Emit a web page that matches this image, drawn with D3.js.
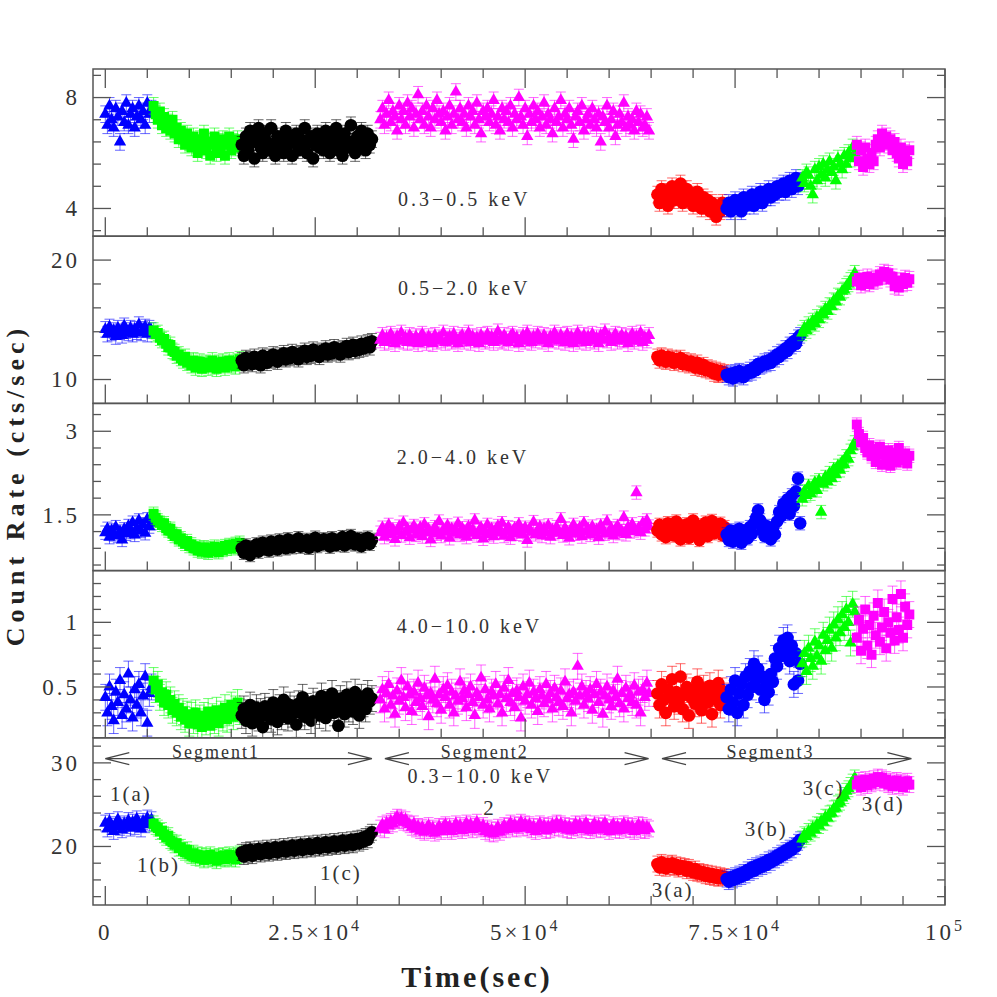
<!DOCTYPE html>
<meta charset="utf-8">
<head>
  <title>Light curves</title>
</head>
<style>
  body { margin: 0; background: #fff; }
  .lbl { font-family: "Liberation Serif", serif; fill: #333; }
</style>
<body>
<svg id="chart" width="997" height="997"></svg>
<script src="https://cdnjs.cloudflare.com/ajax/libs/d3/7.8.5/d3.min.js"></script>
<script>
// ---- data ----
const bandNames = ["0.3\u22120.5  keV", "0.5\u22122.0  keV", "2.0\u22124.0  keV", "4.0\u221210.0  keV", "0.3\u221210.0  keV"];
const groupNames = ["1(a)", "1(b)", "1(c)", "2", "3(a)", "3(b)", "3(c)", "3(d)"];
const groupStart = [0, 5750, 16250, 32750, 65750, 74000, 83000, 89500]; // sec
const binSize = 250; // sec

const rate03_05 = [
  [7.4, 7.0, 7.7, 7.2, 6.9, 7.6, 7.3, 6.4, 7.5, 7.1, 7.8, 7.0, 7.4, 7.6, 6.9, 7.3, 7.7, 7.2, 7.5, 7.0, 7.8, 7.4, 7.6],
  [7.7, 7.4, 7.2, 7.5, 7.0, 7.3, 6.9, 7.1, 6.8, 7.2, 6.7, 6.9, 6.5, 6.8, 6.6, 6.3, 6.7, 6.4,
   6.2, 6.6, 6.3, 6.0, 6.5, 6.2, 6.7, 6.1, 6.4, 5.9, 6.3, 6.6, 6.0, 6.4, 6.2, 6.5, 5.9, 6.3, 6.6, 6.1, 6.4, 6.2, 6.5, 6.3],
  [6.3, 5.9, 6.6, 6.1, 6.8, 6.4, 5.8, 6.5, 6.9, 6.2, 6.0, 6.7, 6.4, 6.1, 6.9, 6.3, 5.9, 6.6, 6.2, 6.5,
   6.0, 6.8, 6.3, 6.6, 5.9, 6.4, 6.7, 6.1, 6.5, 6.2, 6.9, 6.0, 6.4, 6.6, 5.8, 6.3, 6.7, 6.2, 6.5, 6.1,
   6.8, 6.4, 6.0, 6.6, 6.3, 6.9, 6.1, 6.5, 5.9, 6.7, 6.2, 6.4, 7.0, 6.3, 6.0, 6.6, 6.2, 6.8, 6.4, 6.1,
   6.7, 6.3, 6.5],
  [7.2, 7.6, 7.0, 7.4, 7.9, 7.1, 7.5, 7.3, 6.8, 7.7, 7.2, 7.5, 7.0, 7.8, 7.3, 7.6, 6.9, 7.4, 8.1, 7.2,
   7.5, 7.0, 7.7, 7.3, 6.9, 7.6, 7.2, 7.9, 7.4, 7.1, 7.5, 6.8, 7.3, 7.7, 7.0, 7.4, 8.2, 7.2, 7.6, 7.1,
   7.4, 6.9, 7.7, 7.3, 7.5, 7.0, 7.8, 7.2, 6.7, 7.5, 7.3, 7.6, 7.1, 7.4, 7.9, 7.0, 7.3, 6.8, 7.6, 7.2,
   7.5, 7.1, 7.7, 6.9, 7.4, 7.2, 8.0, 7.3, 7.0, 7.6, 6.6, 7.4, 7.1, 7.7, 7.2, 7.5, 6.9, 7.3, 7.8, 7.0,
   7.4, 7.2, 6.7, 7.6, 7.1, 7.3, 7.9, 6.9, 7.4, 7.2, 7.6, 7.0, 6.5, 7.3, 7.5, 7.1, 7.7, 6.8, 7.2, 7.4,
   7.0, 7.6, 7.2, 6.9, 7.4, 6.4, 7.3, 7.1, 7.7, 6.9, 7.2, 7.5, 6.6, 7.0, 7.4, 7.1, 7.8, 6.9, 7.3, 7.0,
   7.2, 6.8, 7.5, 7.1, 7.4, 6.9, 7.0, 7.3, 6.8],
  [4.5, 4.2, 4.7, 4.4, 4.6, 4.1, 4.5, 4.8, 4.3, 4.6, 4.4, 4.9, 4.2, 4.5, 4.7, 4.3, 4.5, 4.1, 4.4, 4.6,
   4.2, 4.0, 4.4, 4.1, 4.3, 3.9, 4.2, 4.0, 3.7, 4.1, 3.9, 4.2, 4.0],
  [4.0, 4.2, 3.9, 4.1, 4.3, 4.0, 4.2, 3.9, 4.4, 4.1, 4.3, 4.2, 4.5, 4.1, 4.4, 4.3, 4.6, 4.2, 4.5, 4.4,
   4.7, 4.4, 4.6, 4.5, 4.8, 4.6, 4.7, 4.9, 4.6, 4.8, 5.0, 4.7, 4.9, 5.1, 4.8, 5.0],
  [5.1, 4.9, 5.3, 5.2, 4.8, 4.5, 5.4, 5.0, 5.5, 5.2, 5.6, 5.1, 5.4, 5.7, 5.3, 5.5, 5.0, 5.8, 5.6, 5.4,
   5.9, 5.6, 6.0, 5.8, 6.2, 6.0],
  [6.3, 5.7, 6.1, 5.5, 6.2, 5.8, 5.6, 6.0, 5.7, 6.3, 6.5, 6.2, 6.7, 6.4, 6.6, 6.3, 6.5, 6.1, 6.4, 6.0,
   5.8, 6.2, 5.6, 6.0, 5.7, 6.1]
];
const rate05_20 = [
  [14.2, 13.8, 14.4, 13.9, 14.1, 13.6, 14.3, 14.0, 13.7, 14.5, 14.1, 13.9, 14.3, 13.8, 14.2, 14.0, 14.6, 13.9, 14.2, 14.4, 13.8, 14.3, 14.1],
  [14.1, 13.8, 13.9, 13.5, 13.3, 13.4, 13.0, 12.7, 12.9, 12.4, 12.3, 12.0, 12.1, 11.8, 11.6, 11.9, 11.4, 11.5,
   11.2, 11.6, 11.0, 11.3, 11.5, 10.9, 11.2, 11.4, 11.0, 11.3, 11.6, 11.1, 10.9, 11.4, 11.2, 11.5, 11.0, 11.3, 11.6, 11.2, 11.4, 11.1, 11.5, 11.7],
  [11.6, 11.2, 11.8, 11.4, 11.7, 11.3, 11.9, 11.5, 11.6, 11.2, 12.0, 11.7, 11.4, 11.9, 11.6, 12.1, 11.7, 11.5, 12.0, 11.8,
   12.2, 11.7, 12.0, 11.8, 12.3, 11.9, 12.1, 11.7, 12.2, 12.0, 12.4, 11.9, 12.2, 12.0, 12.5, 12.1, 12.3, 11.9, 12.4, 12.2,
   12.6, 12.1, 12.4, 12.2, 12.7, 12.3, 12.5, 12.1, 12.6, 12.4, 12.8, 12.3, 12.6, 12.9, 12.4, 12.7, 12.5, 13.0, 12.6, 12.8,
   13.1, 12.7, 13.2],
  [13.3, 13.7, 13.1, 13.5, 13.2, 13.8, 13.4, 13.0, 13.6, 13.3, 13.9, 13.2, 13.5, 13.1, 13.7, 13.4, 13.2, 13.6, 13.0, 13.5,
   13.8, 13.3, 13.1, 13.6, 13.4, 13.0, 13.7, 13.2, 13.5, 13.3, 13.9, 13.1, 13.4, 13.6, 13.2, 13.8, 13.3, 13.0, 13.5, 13.7,
   13.2, 13.4, 13.9, 13.1, 13.6, 13.3, 13.5, 13.0, 13.7, 13.4, 13.2, 13.8, 13.3, 13.6, 13.1, 13.5, 14.0, 13.3, 13.2, 13.7,
   13.4, 13.1, 13.6, 13.8, 13.3, 13.5, 13.0, 13.4, 13.7, 13.2, 13.9, 13.4, 13.1, 13.6, 13.3, 13.8, 13.5, 13.2, 13.7, 13.4,
   13.0, 13.6, 13.3, 13.9, 13.5, 13.2, 13.7, 13.4, 13.1, 13.8, 13.3, 13.6, 13.0, 13.5, 13.9, 13.2, 13.4, 13.7, 13.1, 13.6,
   13.3, 13.8, 13.2, 13.5, 13.0, 13.7, 13.4, 14.0, 13.3, 13.6, 13.1, 13.5, 13.8, 13.2, 13.4, 13.7, 13.3, 13.6, 13.0, 13.5,
   13.8, 13.2, 13.6, 13.4, 13.9, 13.1, 13.5, 13.3, 13.7],
  [11.9, 11.6, 12.0, 11.7, 11.5, 11.9, 11.6, 11.8, 11.4, 11.7, 11.5, 11.8, 11.3, 11.6, 11.4, 11.2, 11.5, 11.3, 11.0, 11.4,
   11.1, 10.9, 11.2, 10.8, 11.0, 10.7, 10.9, 10.5, 10.8, 10.4, 10.7, 10.5, 10.6],
  [10.4, 10.2, 10.5, 10.1, 10.6, 10.3, 10.7, 10.4, 10.2, 10.6, 10.5, 10.8, 10.6, 11.0, 10.8, 11.3, 11.1, 11.2, 11.5, 11.3,
   11.6, 11.4, 11.8, 11.7, 12.1, 11.9, 12.3, 12.2, 12.6, 12.4, 12.9, 12.8, 13.2, 13.0, 13.5, 13.7],
  [13.9, 14.3, 14.1, 14.6, 14.4, 14.9, 14.7, 15.2, 15.0, 15.5, 15.4, 15.9, 15.7, 16.2, 16.1, 16.6, 16.5, 17.0, 16.9, 17.4,
   17.5, 17.8, 18.0, 18.3, 18.5, 18.9],
  [18.2, 18.5, 17.9, 18.3, 18.1, 18.6, 18.0, 18.4, 18.2, 18.5, 18.3, 18.8, 18.6, 19.0, 18.7, 18.9, 18.4, 18.6, 17.8, 18.2,
   17.7, 18.3, 18.0, 18.5, 18.1, 18.4]
];
const rate20_40 = [
  [1.18, 1.25, 1.10, 1.22, 1.15, 1.28, 1.12, 1.20, 1.05, 1.24, 1.16, 1.30, 1.19, 1.36, 1.14, 1.26, 1.40, 1.21, 1.33, 1.17, 1.42, 1.29, 1.35],
  [1.52, 1.45, 1.40, 1.36, 1.32, 1.35, 1.26, 1.22, 1.25, 1.16, 1.12, 1.15, 1.06, 1.08, 1.02, 0.98, 1.03, 0.94, 0.97, 0.90,
   0.93, 0.86, 0.90, 0.84, 0.92, 0.87, 0.82, 0.90, 0.85, 0.93, 0.88, 0.83, 0.91, 0.87, 0.94, 0.89, 0.96, 0.90, 0.93, 0.98, 0.92, 1.00],
  [0.90, 0.82, 0.95, 0.86, 0.78, 0.92, 0.88, 0.97, 0.84, 0.93, 1.00, 0.89, 0.95, 0.86, 1.02, 0.92, 0.98, 0.88, 1.04, 0.94,
   0.99, 0.90, 1.06, 0.95, 0.92, 1.03, 0.97, 1.08, 0.93, 1.00, 0.96, 1.05, 0.91, 1.02, 0.98, 1.09, 0.94, 1.01, 0.97, 1.06,
   0.99, 1.04, 0.93, 1.08, 1.00, 0.96, 1.05, 1.01, 1.10, 0.95, 1.03, 0.99, 1.12, 1.04, 0.97, 1.07, 1.02, 0.94, 1.06, 1.01,
   1.09, 0.98, 1.05],
  [1.18, 1.27, 1.10, 1.22, 1.32, 1.15, 1.24, 1.06, 1.20, 1.29, 1.13, 1.36, 1.19, 1.25, 1.09, 1.23, 1.30, 1.14, 1.21, 1.27,
   1.11, 1.33, 1.18, 1.24, 1.05, 1.20, 1.28, 1.16, 1.38, 1.12, 1.23, 1.19, 1.31, 1.08, 1.25, 1.17, 1.22, 1.34, 1.14, 1.26,
   1.20, 1.10, 1.29, 1.17, 1.24, 1.40, 1.13, 1.21, 1.27, 1.07, 1.19, 1.32, 1.15, 1.25, 1.11, 1.23, 1.30, 1.18, 1.35, 1.12,
   1.22, 1.28, 1.09, 1.20, 1.26, 1.16, 1.33, 1.21, 1.14, 1.27, 1.04, 1.24, 1.19, 1.37, 1.15, 1.22, 1.29, 1.12, 1.25, 1.18,
   1.31, 1.10, 1.23, 1.17, 1.28, 1.20, 1.42, 1.13, 1.26, 1.19, 1.08, 1.24, 1.32, 1.16, 1.21, 1.27, 1.11, 1.35, 1.20, 1.25,
   1.14, 1.29, 1.18, 1.23, 1.09, 1.31, 1.22, 1.16, 1.38, 1.19, 1.26, 1.12, 1.24, 1.30, 1.17, 1.21, 1.45, 1.15, 1.28, 1.20,
   1.33, 1.22, 1.90, 1.26, 1.18, 1.35, 1.24, 1.40, 1.29],
  [1.22, 1.32, 1.15, 1.27, 1.10, 1.35, 1.20, 1.29, 1.13, 1.38, 1.24, 1.06, 1.30, 1.18, 1.33, 1.09, 1.26, 1.40, 1.16, 1.28,
   1.05, 1.31, 1.21, 1.36, 1.12, 1.25, 1.39, 1.17, 1.30, 1.22, 1.34, 1.14, 1.28],
  [1.15, 1.05, 1.22, 1.02, 1.18, 1.10, 1.25, 1.00, 1.14, 1.20, 1.08, 1.28, 1.16, 1.35, 1.45, 1.58, 1.40, 1.22, 1.12, 1.30,
   1.18, 1.06, 1.25, 1.15, 1.38, 1.55, 1.48, 1.70, 1.62, 1.78, 1.52, 1.85, 1.66, 1.92, 2.15, 1.35],
  [1.78, 1.92, 1.85, 2.02, 1.88, 1.98, 2.08, 1.94, 2.12, 1.55, 2.05, 2.18, 2.10, 2.25, 2.15, 2.32, 2.22, 2.38, 2.30, 2.45,
   2.40, 2.55, 2.50, 2.65, 2.72, 2.80],
  [3.12, 2.95, 2.80, 2.88, 2.70, 2.62, 2.75, 2.55, 2.68, 2.45, 2.60, 2.72, 2.40, 2.58, 2.50, 2.66, 2.38, 2.55, 2.62, 2.44,
   2.70, 2.52, 2.48, 2.60, 2.42, 2.56]
];
const rate40_100 = [
  [0.42, 0.30, 0.50, 0.35, 0.24, 0.46, 0.38, 0.55, 0.28, 0.44, 0.33, 0.60, 0.40, 0.26, 0.48, 0.36, 0.52, 0.30, 0.43, 0.58, 0.22, 0.45, 0.50],
  [0.55, 0.48, 0.52, 0.42, 0.46, 0.38, 0.44, 0.36, 0.40, 0.32, 0.37, 0.30, 0.34, 0.27, 0.31, 0.25, 0.29, 0.22, 0.28, 0.24,
   0.30, 0.21, 0.26, 0.19, 0.28, 0.23, 0.31, 0.20, 0.27, 0.24, 0.32, 0.22, 0.29, 0.26, 0.34, 0.25, 0.30, 0.36, 0.27, 0.33, 0.38, 0.31],
  [0.28, 0.33, 0.24, 0.30, 0.36, 0.22, 0.29, 0.34, 0.26, 0.31, 0.19, 0.35, 0.28, 0.32, 0.25, 0.38, 0.30, 0.23, 0.34, 0.27,
   0.40, 0.31, 0.26, 0.36, 0.29, 0.33, 0.21, 0.37, 0.30, 0.42, 0.27, 0.35, 0.32, 0.24, 0.39, 0.31, 0.36, 0.28, 0.43, 0.33,
   0.26, 0.38, 0.34, 0.45, 0.30, 0.37, 0.20, 0.41, 0.35, 0.29, 0.44, 0.33, 0.39, 0.31, 0.46, 0.36, 0.28, 0.42, 0.37, 0.33,
   0.45, 0.39, 0.41],
  [0.40, 0.48, 0.33, 0.45, 0.52, 0.36, 0.43, 0.29, 0.47, 0.39, 0.55, 0.42, 0.34, 0.50, 0.44, 0.31, 0.46, 0.38, 0.53, 0.41,
   0.35, 0.49, 0.43, 0.27, 0.45, 0.40, 0.56, 0.37, 0.44, 0.32, 0.48, 0.42, 0.51, 0.36, 0.46, 0.30, 0.43, 0.39, 0.54, 0.41,
   0.47, 0.34, 0.44, 0.50, 0.38, 0.28, 0.45, 0.42, 0.57, 0.36, 0.48, 0.40, 0.33, 0.46, 0.43, 0.52, 0.37, 0.44, 0.30, 0.49,
   0.41, 0.55, 0.38, 0.45, 0.34, 0.47, 0.42, 0.26, 0.50, 0.39, 0.44, 0.53, 0.36, 0.46, 0.41, 0.31, 0.48, 0.43, 0.37, 0.52,
   0.40, 0.45, 0.33, 0.49, 0.42, 0.38, 0.47, 0.35, 0.54, 0.41, 0.44, 0.30, 0.46, 0.39, 0.66, 0.43, 0.50, 0.36, 0.45, 0.41,
   0.48, 0.32, 0.44, 0.52, 0.38, 0.46, 0.29, 0.43, 0.50, 0.40, 0.35, 0.47, 0.42, 0.56, 0.37, 0.45, 0.33, 0.49, 0.41, 0.44,
   0.38, 0.51, 0.36, 0.46, 0.30, 0.48, 0.42, 0.53, 0.45],
  [0.45, 0.36, 0.52, 0.40, 0.30, 0.48, 0.42, 0.56, 0.35, 0.46, 0.39, 0.58, 0.33, 0.44, 0.50, 0.28, 0.42, 0.47, 0.37, 0.54,
   0.41, 0.32, 0.49, 0.44, 0.38, 0.51, 0.29, 0.45, 0.40, 0.53, 0.36, 0.47, 0.43],
  [0.42, 0.33, 0.48, 0.38, 0.55, 0.30, 0.45, 0.52, 0.36, 0.58, 0.44, 0.62, 0.50, 0.68, 0.56, 0.64, 0.48, 0.58, 0.40, 0.52,
   0.46, 0.60, 0.54, 0.72, 0.66, 0.80, 0.74, 0.86, 0.78, 0.88, 0.70, 0.82, 0.52, 0.76, 0.55, 0.68],
  [0.68, 0.76, 0.62, 0.80, 0.72, 0.66, 0.85, 0.74, 0.82, 0.70, 0.90, 0.78, 0.86, 0.94, 0.80, 0.98, 0.88, 1.02, 0.92, 1.06,
   0.96, 1.10, 1.00, 0.84, 1.14, 1.08],
  [0.88, 1.02, 0.78, 0.95, 1.10, 0.82, 0.98, 0.75, 1.05, 0.90, 1.15, 0.85, 0.96, 1.08, 0.80, 1.00, 0.92, 1.18, 0.86, 1.04,
   0.94, 1.22, 0.88, 1.12, 0.98, 1.06]
];
const rate03_100 = [
  [22.8, 22.1, 23.0, 22.4, 21.8, 22.6, 23.2, 22.3, 22.0, 22.7, 22.5, 23.1, 22.2, 22.9, 22.4, 23.3, 22.7, 22.1, 23.0, 22.6, 23.4, 22.8, 23.2],
  [22.7, 22.4, 22.2, 21.8, 21.9, 21.4, 21.1, 21.3, 20.7, 20.5, 20.2, 20.4, 19.8, 19.9, 19.5, 19.3, 19.6, 19.1, 18.9, 19.2,
   18.7, 19.0, 18.6, 18.9, 18.4, 18.8, 18.6, 19.0, 18.5, 18.7, 18.3, 18.8, 18.6, 18.9, 18.5, 18.7, 19.0, 18.6, 18.8, 18.5, 18.9, 19.1],
  [19.3, 18.8, 19.5, 19.0, 19.6, 18.9, 19.4, 19.2, 19.7, 19.1, 19.5, 19.3, 19.8, 19.2, 19.6, 19.4, 19.9, 19.3, 19.7, 19.5,
   20.0, 19.4, 19.8, 19.6, 20.1, 19.5, 19.9, 19.7, 20.2, 19.6, 20.0, 19.8, 20.3, 19.7, 20.1, 19.9, 20.4, 19.8, 20.2, 20.0,
   20.5, 19.9, 20.3, 20.1, 20.6, 20.0, 20.4, 20.2, 20.7, 20.1, 20.5, 20.3, 20.8, 20.2, 20.6, 20.9, 20.4, 21.0, 20.6, 21.2,
   20.8, 21.4, 21.7],
  [22.2, 22.6, 22.0, 22.8, 22.5, 23.0, 22.7, 23.2, 23.5, 23.1, 23.4, 22.9, 23.2, 22.8, 22.6, 22.3, 22.7, 22.1, 22.4, 21.9,
   22.3, 21.7, 22.1, 22.5, 21.9, 22.2, 21.6, 22.0, 22.4, 21.8, 22.3, 22.6, 22.0, 22.4, 21.8, 22.2, 22.7, 22.1, 22.5, 21.9,
   22.3, 22.8, 22.2, 22.6, 22.0, 22.4, 22.9, 22.3, 22.1, 22.5, 21.8, 22.2, 21.6, 22.0, 21.5, 21.9, 22.3, 21.7, 22.1, 22.5,
   22.0, 22.4, 22.8, 22.2, 22.6, 22.1, 22.5, 22.9, 22.3, 22.7, 22.2, 22.6, 22.0, 22.4, 21.8, 22.3, 22.7, 22.1, 22.5, 21.9,
   22.4, 22.0, 22.6, 22.2, 22.8, 22.3, 22.7, 22.1, 22.5, 22.0, 22.4, 21.9, 22.3, 22.7, 22.2, 22.6, 22.0, 22.4, 22.8, 22.3,
   21.9, 22.3, 22.7, 22.1, 22.5, 22.0, 22.4, 22.8, 22.2, 21.8, 22.3, 22.6, 22.0, 22.4, 21.9, 22.3, 22.7, 22.1, 22.5, 22.0,
   22.4, 21.8, 22.2, 22.6, 22.0, 22.5, 21.9, 22.3, 22.1],
  [17.9, 17.5, 18.1, 17.7, 17.4, 17.9, 17.6, 18.0, 17.5, 17.8, 17.3, 17.7, 17.4, 17.6, 17.1, 17.5, 17.2, 16.9, 17.3, 16.8,
   17.0, 16.7, 16.9, 16.5, 16.8, 16.4, 16.7, 16.3, 16.6, 16.2, 16.5, 16.3, 16.4],
  [16.1, 15.8, 16.3, 16.0, 16.5, 16.2, 16.7, 16.4, 16.9, 16.6, 17.2, 16.9, 17.5, 17.1, 17.7, 17.4, 17.9, 17.6, 18.1, 17.8,
   18.4, 18.1, 18.6, 18.4, 18.9, 18.7, 19.2, 19.0, 19.5, 19.3, 19.8, 19.6, 20.1, 20.0, 20.5, 20.8],
  [20.9, 21.4, 21.2, 21.8, 21.6, 22.2, 22.0, 22.6, 22.5, 23.0, 22.9, 23.5, 23.4, 23.9, 24.0, 24.5, 24.6, 25.1, 25.3, 25.8,
   26.1, 26.6, 26.9, 27.3, 27.7, 28.2],
  [27.4, 27.9, 27.1, 27.6, 28.0, 27.3, 27.8, 27.5, 28.1, 27.7, 28.3, 27.9, 28.2, 27.6, 28.0, 27.4, 27.8, 27.2, 27.6, 27.9,
   27.3, 27.7, 27.1, 27.5, 27.8, 27.4]
];
const bandRates = [rate03_05, rate05_20, rate20_40, rate40_100, rate03_100];
const rateErr = [0.3, 0.65, 0.12, 0.1, 0.95];

// axis ranges and ticks
const yDomains = [[3.0, 9.03], [8, 22], [0.5, 3.5], [0.107, 1.4], [13, 33]];
const yMajor = [[4, 8], [10, 20], [1.5, 3], [0.5, 1], [20, 30]];
const yMajorLabels = [["4", "8"], ["10", "20"], ["1.5", "3"], ["0.5", "1"], ["20", "30"]];
const yMinorStep = [0.8, 2, 0.3, 0.1, 2];
const xMajor = [0, 25000, 50000, 75000, 100000];
const xTickLabels = [["0", ""], ["2.5\u00d710", "4"], ["5\u00d710", "4"], ["7.5\u00d710", "4"], ["10", "5"]];
const xMinorStep = 5000;

// segment arrows and group labels in the bottom (0.3-10 keV) panel
const segNames = ["Segment1", "Segment2", "Segment3"];
const segFrom = [0, 33300, 66300];
const segTo = [31750, 64700, 96000];
const segLabelTime = [13180, 45200, 79230];
const segRate = 30.5;
const labelTime = [560, 3770, 25560, 45000, 65080, 76150, 83060, 90080];
const labelRate = [25.5, 17.0, 16.0, 23.8, 14.0, 21.2, 26.2, 24.2];

// ---- drawing ----
var svg = d3.select("#chart");
var left = 93, right = 945, top0 = 69, panelH = 167.2;

var x = d3.scaleLinear().domain([-1465, 100000]).range([left, right]);

var groupStyle = [
  { color: "#0000ff", shape: d3.symbolTriangle, size: 66 },
  { color: "#00ff00", shape: d3.symbolSquare, size: 100 },
  { color: "#000000", shape: d3.symbolCircle, size: 125 },
  { color: "#ff00ff", shape: d3.symbolTriangle, size: 66 },
  { color: "#ff0000", shape: d3.symbolCircle, size: 125 },
  { color: "#0000ff", shape: d3.symbolCircle, size: 125 },
  { color: "#00ff00", shape: d3.symbolTriangle, size: 66 },
  { color: "#ff00ff", shape: d3.symbolSquare, size: 100 }
];
var labelOffset = [137, 58.5, 61, 62, 45];
var labelLeft = [34850, 34850, 34700, 34700, 36000];
var frameColor = "#555";

bandRates.forEach(function(rates, p) {
  var pt = top0 + p * panelH, pb = pt + panelH;
  var y = d3.scaleLinear().domain(yDomains[p]).range([pb, pt]);
  var g = svg.append("g");

  // clip so error bars stay inside the panel
  svg.append("clipPath").attr("id", "clip" + p)
    .append("rect").attr("x", left).attr("y", pt).attr("width", right - left).attr("height", panelH);

  var plot = g.append("g").attr("clip-path", "url(#clip" + p + ")");
  rates.forEach(function(vals, gi) {
    var st = groupStyle[gi];
    var sym = d3.symbol().type(st.shape).size(st.size);
    vals.forEach(function(v, i) {
      var t = groupStart[gi] + i * binSize;
      var cx = x(t), e = rateErr[p];
      var pg = plot.append("g");
      pg.append("path")
        .attr("d", "M" + cx + "," + y(v - e) + "V" + y(v + e) +
          "M" + (cx - 5) + "," + y(v - e) + "H" + (cx + 5) +
          "M" + (cx - 5) + "," + y(v + e) + "H" + (cx + 5))
        .attr("stroke", st.color).attr("stroke-opacity", 0.6).attr("stroke-width", 1).attr("fill", "none");
      pg.append("path")
        .attr("d", sym())
        .attr("transform", "translate(" + cx + "," + y(v) + ")")
        .attr("fill", st.color);
    });
  });

  // frame
  g.append("rect").attr("x", left).attr("y", pt).attr("width", right - left).attr("height", panelH)
    .attr("fill", "none").attr("stroke", frameColor).attr("stroke-width", 1.5);

  // y ticks, both sides
  var step = yMinorStep[p], base = yMajor[p][0];
  var minors = d3.range(-60, 60).map(function(k) { return +(base + k * step).toFixed(4); })
    .filter(function(v) { return y(v) > pt + 1 && y(v) < pb - 1; });
  minors.forEach(function(v) {
    var isMajor = yMajor[p].some(function(m) { return Math.abs(m - v) < 1e-6; });
    var len = isMajor ? 18 : 8;
    g.append("line").attr("x1", left).attr("x2", left + len).attr("y1", y(v)).attr("y2", y(v))
      .attr("stroke", frameColor).attr("stroke-width", 1.3);
    g.append("line").attr("x1", right).attr("x2", right - len).attr("y1", y(v)).attr("y2", y(v))
      .attr("stroke", frameColor).attr("stroke-width", 1.3);
  });
  yMajor[p].forEach(function(v, i) {
    g.append("text").attr("class", "lbl")
      .attr("x", 80).attr("y", y(v)).attr("dy", "0.34em")
      .attr("text-anchor", "end")
      .style("font-size", "23px").style("letter-spacing", "3px")
      .text(yMajorLabels[p][i]);
  });

  // x ticks at panel bottom (and top of first panel)
  d3.range(0, 100001, xMinorStep).forEach(function(t) {
    var len = xMajor.indexOf(t) >= 0 ? 19 : 9;
    g.append("line").attr("x1", x(t)).attr("x2", x(t)).attr("y1", pb).attr("y2", pb - len)
      .attr("stroke", frameColor).attr("stroke-width", 1.3);
    if (p === 0) {
      g.append("line").attr("x1", x(t)).attr("x2", x(t)).attr("y1", pt).attr("y2", pt + len)
        .attr("stroke", frameColor).attr("stroke-width", 1.3);
    }
  });

  // band label
  g.append("text").attr("class", "lbl")
    .attr("x", x(labelLeft[p])).attr("y", pt + labelOffset[p])
    .style("font-size", "20px").style("letter-spacing", "3px")
    .text(bandNames[p]);

  if (p === 4) {
    // segment arrows
    segNames.forEach(function(s, i) {
      var x0 = x(segFrom[i]), x1 = x(segTo[i]), yy = y(segRate);
      g.append("path")
        .attr("d", "M" + x0 + "," + yy + "H" + x1 +
          "M" + (x0 + 24) + "," + (yy - 6) + "L" + x0 + "," + yy + "L" + (x0 + 24) + "," + (yy + 6) +
          "M" + (x1 - 24) + "," + (yy - 6) + "L" + x1 + "," + yy + "L" + (x1 - 24) + "," + (yy + 6))
        .attr("stroke", "#444").attr("stroke-width", 1.2).attr("fill", "none");
      g.append("text").attr("class", "lbl")
        .attr("x", x(segLabelTime[i])).attr("y", yy - 1)
        .attr("text-anchor", "middle")
        .style("font-size", "18px").style("letter-spacing", "2px")
        .text(s);
    });
    groupNames.forEach(function(nm, i) {
      g.append("text").attr("class", "lbl")
        .attr("x", x(labelTime[i])).attr("y", y(labelRate[i]))
        .style("font-size", "21px").style("letter-spacing", "2px")
        .text(nm);
    });
  }
});

// x tick labels
var bottom = top0 + 5 * panelH;
xMajor.forEach(function(t, i) {
  var txt = svg.append("text").attr("class", "lbl")
    .attr("x", x(t)).attr("y", bottom + 35)
    .attr("text-anchor", "middle")
    .style("font-size", "23px").style("letter-spacing", "3px");
  txt.append("tspan").text(xTickLabels[i][0]);
  if (xTickLabels[i][1]) {
    txt.append("tspan").attr("dy", -9).style("font-size", "16px").text(xTickLabels[i][1]);
  }
});

// axis titles
svg.append("text").attr("class", "lbl")
  .attr("transform", "translate(24,485) rotate(-90)")
  .attr("text-anchor", "middle")
  .style("font-size", "26px").style("font-weight", "bold").style("letter-spacing", "5px")
  .style("fill", "#222")
  .text("Count Rate (cts/sec)");

svg.append("text").attr("class", "lbl")
  .attr("x", 477).attr("y", 987)
  .attr("text-anchor", "middle")
  .style("font-size", "30px").style("font-weight", "bold").style("letter-spacing", "3px")
  .style("fill", "#222")
  .text("Time(sec)");
</script>
</body>
</html>
